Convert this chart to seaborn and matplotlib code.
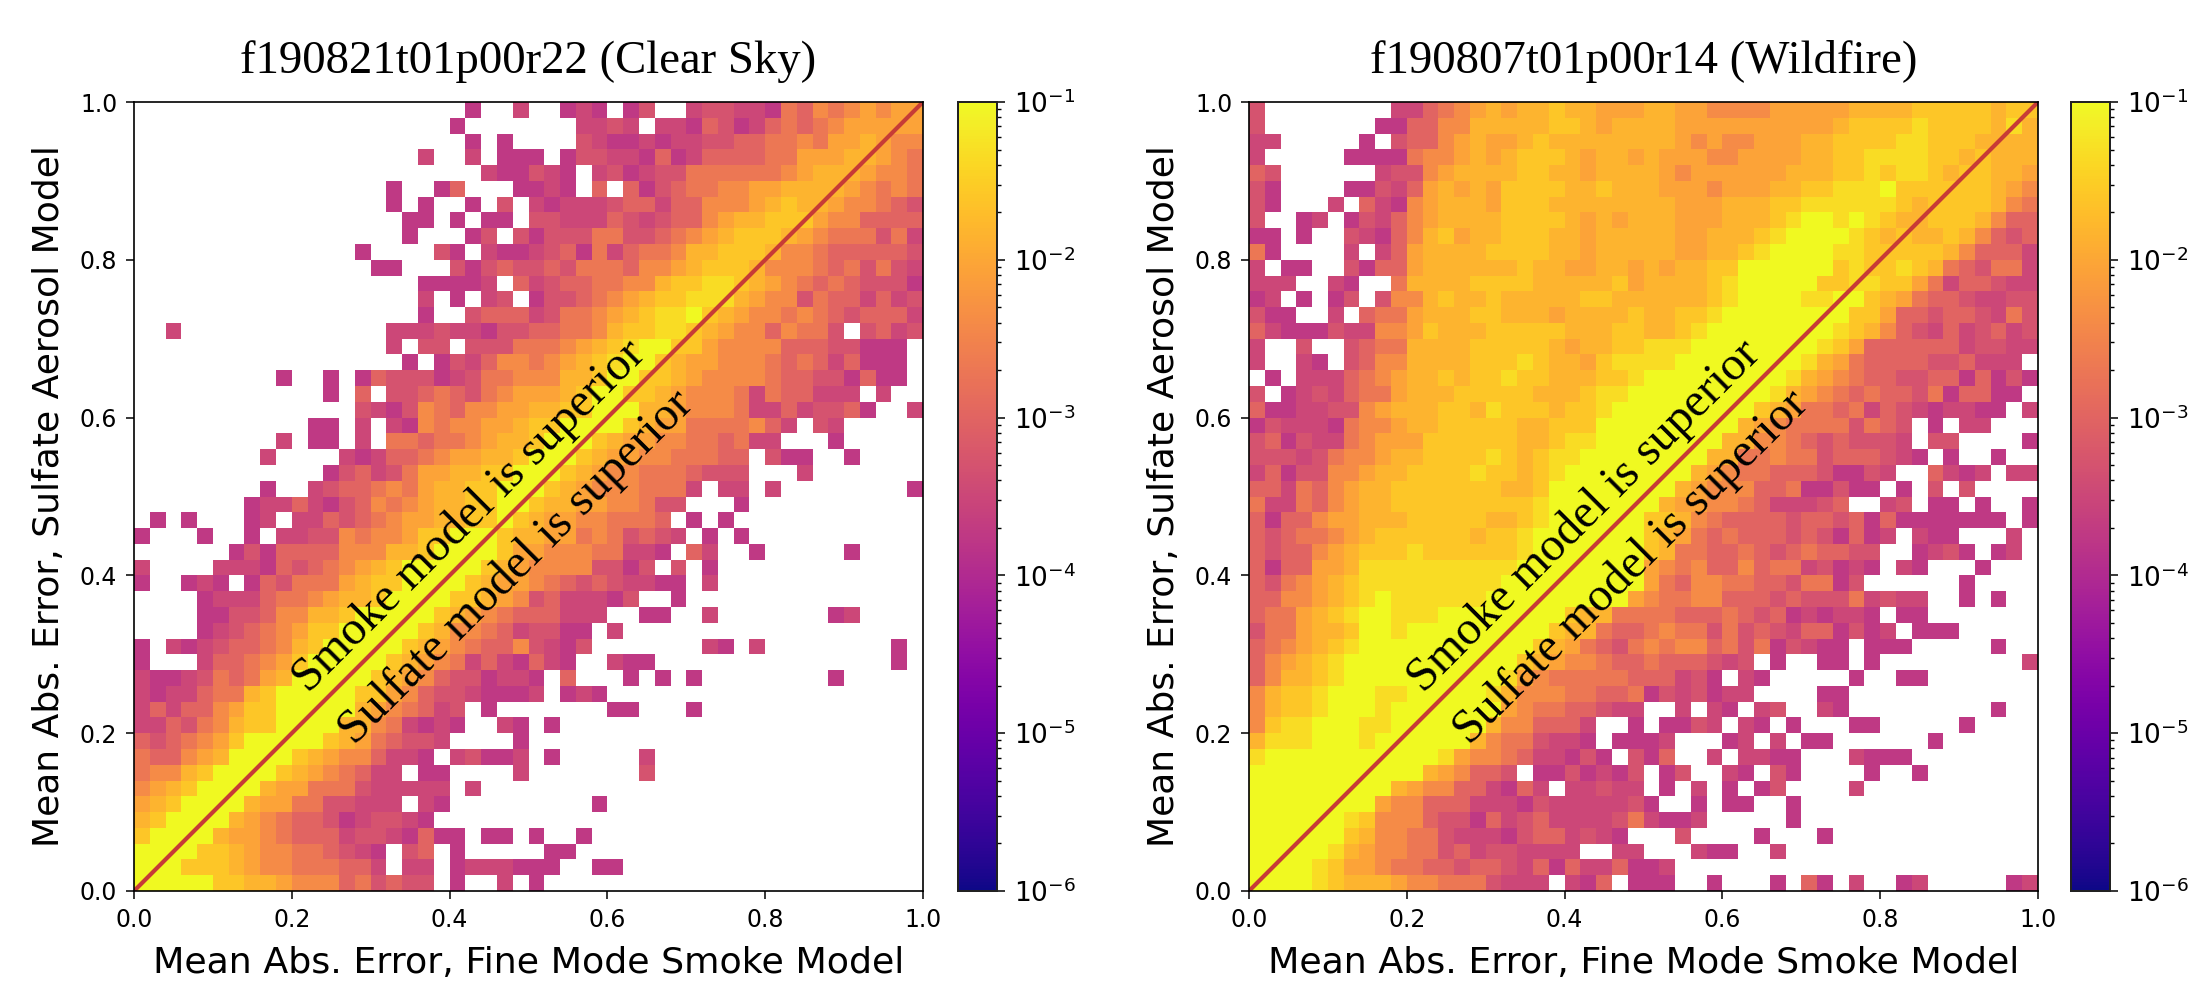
import matplotlib
matplotlib.use('Agg')

import numpy as np
import pandas as pd
import matplotlib.pyplot as plt
import seaborn as sns
from matplotlib.colors import LogNorm

sns.set_style("ticks")
plt.rcParams['font.family'] = 'DejaVu Sans'
plt.rcParams['text.color'] = 'black'
plt.rcParams['axes.labelcolor'] = 'black'

LEVELS = {'0': 1.8e-4, '1': 3.2e-4, '2': 5.0e-4, '3': 1.0e-3, '4': 2.0e-3, '5': 4.0e-3,
          '6': 9.0e-3, '7': 1.45e-2, '8': 2.5e-2, 'a': 4.5e-2, '9': 1.0e-1}

# rows run top to bottom, columns left to right, '.' is an empty bin
clear_sky = [
    ".....................0..1 ..010.02..12211043545656 6",
    "....................0.... ...1121.11032013434566666",
    ".....................0.0. ...21 00101 12233 44546 67655",
    "..................1..1.00 0.022 11030 13333 44666 77654",
    "......................100 210.1 20122 44444 45677 76554",
    "................0..03...0 010.3 .3023 44556 67777 65454",
    "................0.0..0.2. 10111 23313 35556 78776 55432",
    ".................00.0.00. 22111 32123 35677 88865 53333",
    ".................0...02.2 02224 42234 56788 87654 44241",
    "..............0....20.100 12304 13445 77888 75543 33332",
    "...............00...20232 23244 43556 78887 55543 42421",
    "..................00001.3 12334 45578 8aa87 65434 32220",
    "..................1.0.12. 02234 56788 aaa76 55243 31312",
    "..................0..2333 12445 678aa 98765 54543 23331",
    "..1.............111211022 33445 788aa 87655 35442 .2312",
    "................1.22.2224 44567 8a998 86555 53332 2000.",
    ".................0.021355 45678 a9987 66555 43431 3000.",
    ".........0..0.03222012445 55778 99887 65555 43322 0300.",
    "............0.3.223432456 66789 98876 55541 43311 1.1..",
    "..............21025435566 77889 99776 55541 13122 30..1",
    "...........00.1.105455667 88999 98766 44445 31.21 .....",
    ".........1.00.1.443445677 89998 76655 44341 1...0 .....",
    "........1....101334566778 99987 66554 4433. 200.. 0....",
    "............0231246677889 99876 55444 3222. ..1.. .....",
    "........0..12334546778899 98765 55444 1.11. 1.... ....0",
    ".......011310235456778899 87766 55422 ...0. ..... .....",
    ".0.0...01.113234566778898 76655 4443. 0.0.. ..... .....",
    "0...0..0.1122545568899987 76645 42321 .0.0. ..... .....",
    "......0203333555778999986 65554 4110. 31..0 ..... 0....",
    "1....11103234567899999876 55552 202.2 .0... ..... .....",
    "0..010.032444678899998766 54323 21100 .1... ..... .....",
    "....011134456778999988765 23111 02..0 ..... ..... .....",
    "....002235577899999876543 33111 ..00. .1... ....0 1....",
    "....012345688999998755431 2200. 1.... ..... ..... .....",
    "0.10123345789999987654335 2102. ..... .10.1 ..... ...0.",
    "0...133456899999876541310 310.. 100.. ..... ..... ...0.",
    "1001243467999998765322011 0.3.. .0.0. 0.... ....0 .....",
    "1011344789999988653221000 1.010 ..... ..... ..... .....",
    "1313356889 99997 65431 2.0.. ..... 00... 0.... ..... .....",
    "1132457889 99977 54101 0..10 .0... ..... ..... ..... .....",
    "3234568999 99876 43221 ....0 ..... ..... ..... ..... .....",
    "4335679999 87655 3110. 12001 .0... ..1.. ..... ..... .....",
    "4557899998 76543 11.00 ....1 ..... ..2.. ..... ..... .....",
    "5678999976 64442 11111 .1... ..... ..... ..... ..... .....",
    "6789999766 44221 11.10 ..... ....0 ..... ..... ..... .....",
    "7899997654 33201 2210. ..... ..... ..... ..... ..... .....",
    "8999976654 33312 21030 0.00. 0..0. ..... ..... ..... .....",
    "9999887655 44321 0.23. 0.... .00.. ..... ..... ..... .....",
    "9998887655 44433 1.11. 01110 00..0 0.... ..... ..... .....",
    "9999988776 55534 2322. 0..1. 0.... ..... ..... ..... .....",
]

wildfire = [
    "2........1134567677877666 77665 55566 66677 77888 88788",
    "2.......00335577777887677 77666 66666 66788 88a88 887a7",
    "11.....0.2335676678777777 77656 55666 77888 8aa88 87777",
    "1.....0000455676788876776 76665 56666 7788a aaa88 78777",
    "32......12256777788776777 76566 66667 7788a 8aa87 88776",
    "20....0021367676888877877 76665 66677 88aaa 98888 88765",
    "20...1.310 56777 68887 77777 77666 77788 aaaaa a8788 88754",
    "2..01.0213 56777 78888 76767 77666 7778a 99a9a 87788 87533",
    "00.0..2103 57867 78887 76777 77667 778a9 999a8 78778 75323",
    "40....1.13 67777 88887 76777 77667 78a99 99aa8 88887 53331",
    "1.00..2033 67777 77877 66776 76778 89999 998a8 8a874 32441",
    "111..10..4 77778 88877 77786 77778 a9999 988aa 88641 33211",
    "01.0.02.25 57877 87777 78877 77778 a9999 aa998 76433 21122",
    "200..1.344 67778 87776 77778 7788a 99999 99988 63323 32142",
    "3100021155 68777 88888 77788 778a9 99999 99a87 53213 12312",
    "1..2..2344 77778 88887 67788 aaa99 99999 9a863 33333 12211",
    "1..10.2355 77778 88a87 768aa aa999 99999 a7643 33322 3111.",
    ".0.1113456 77878 8a887 7788a 99999 9999a 76543 32233 03020",
    "2.01213446 77788 88877 78aa9 99999 999a7 65434 33240 3300.",
    "3001122567 77887 a8887 88a99 99999 99876 44341 32101 100.1",
    "0211104556 77888 88778 88999 99999 97654 44424 32.0. 11...",
    "2302114566 68888 88778 aa999 99999 77554 32322 21.22 ....0",
    "2221245567 78888 a878a a9999 99997 74454 42333 210.0 ..0..",
    "1302255677 8888a 8878a 99999 99976 54433 32002 1..31 01.11",
    "3314356778 88888 87789 99999 99765 55334 00200 .0.2. 2....",
    "4114356778 88888 888a9 99999 97665 54311 123.. 12.00 .0..0",
    "3033566777 88888 778a9 99999 88754 33332 33230 30000 000.0",
    "3234456788 88887 88a99 99999 87643 43332 32030 1.100 ...1.",
    "3233567888 a8888 88a99 99999 87443 34323 43322 ..012 0.01.",
    "3033667aaa aaaaa aa999 99999 65453 35344 12010 .10.. .0...",
    "3245678aaa aaaaa a9999 99999 64355 44332 4402. ..... 0....",
    "3355678a9a aaaaa 99999 99996 54455 33323 22241 211.. 0.0..",
    "344678a99a aa999 99999 87744 44333 43230 10110 .00.. .....",
    "244677899a 99999 99998 77433 45442 42321 33020 1.000 .....",
    "345678a999 99999 99987 64324 54553 42402 100.0 00... ..0..",
    "35678a9999 99999 99876 55433 43332 12.0. .00.0 ..... ....1",
    "35778a9999 99999 9a654 44443 33120 .10.. ...0. .00.. .....",
    "5788a999aa 99999 a7555 44334 02120 11... .00.. ..... .....",
    "5788a999a9 99999 96544 33211 ..1.1 0.12. .10.. ..... ..0..",
    "58aa999aa9 99999 75533 31..0 .0021 .10.0 ...00 ..... 0....",
    "7aaa999a99 99997 54421 10.00 01... 01.1. 00... ...0. .....",
    "a999999999 99a65 54311 020.2 03..1 .1100 ...10 00... .....",
    "9999999999 97653 32.00 20102 .02.. 10.20 ....0 ..0.. .....",
    "9999999997 65533 1031. 11211 .0.1. 0.02. ...1. ..... .....",
    "9999999965 53331 11021 11112 0..0. 00..0 ..... ..... .....",
    "999999a855 53220 31231 11124 1001. ....0 ..... ..... .....",
    "9999998755 44211 10233 1210. ..2.. ..0.. .0... ..... .....",
    "99999a7655 44231 22111 1..11 ...10 0..1. ..... ..... .....",
    "9999a86654 43323 32130 31130 01... ..... ..... ..... .....",
    "9999a87776 55444 2111. 103.0 00..0 ...0. 30.1. .01.. ...01",
]

titles = ['f190821t01p00r22 (Clear Sky)', 'f190807t01p00r14 (Wildfire)']
x_label = 'Mean Abs. Error, Fine Mode Smoke Model'
y_label = 'Mean Abs. Error, Sulfate Aerosol Model'
tick_values = [0.0, 0.2, 0.4, 0.6, 0.8, 1.0]
cbar_ticks = [1e-6, 1e-5, 1e-4, 1e-3, 1e-2, 1e-1]


def to_frame(rows):
    # decode the level strings into a table of densities
    cells = []
    for row in rows:
        row = row.replace(' ', '').ljust(50, '.')[:50]
        cells.append([LEVELS.get(c, np.nan) for c in row])
    edges = np.round(np.arange(50) / 50, 2)
    return pd.DataFrame(cells, index=edges[::-1], columns=edges)


W, H = 2193, 982
fig = plt.figure(figsize=(W / 100, H / 100), dpi=100)
fig.patch.set_facecolor('white')

panels = [(clear_sky, titles[0], 134, 958), (wildfire, titles[1], 1249, 2071)]
for rows, title, left, cbar_left in panels:
    ax = fig.add_axes([left / W, 1 - 891 / H, 789 / W, 789 / H])
    cax = fig.add_axes([cbar_left / W, 1 - 891 / H, 39 / W, 789 / H])
    sns.heatmap(to_frame(rows), ax=ax, cbar_ax=cax, cmap='plasma',
                norm=LogNorm(vmin=1e-6, vmax=1e-1), square=False, linewidths=0,
                xticklabels=False, yticklabels=False, rasterized=True)

    # the diagonal and the two captions, given in 0-1 axes space
    tr = ax.transAxes
    ax.plot([0, 1], [0, 1], transform=tr, color='#c73b36', lw=3)
    ax.text(0.425, 0.475, 'Smoke model is superior', transform=tr, rotation=45,
            family='Liberation Serif', fontsize=34.5, ha='center', va='center',
            rotation_mode='anchor')
    ax.text(0.485, 0.410, 'Sulfate model is superior', transform=tr, rotation=45,
            family='Liberation Serif', fontsize=34.5, ha='center', va='center',
            rotation_mode='anchor')

    ax.set_xticks([v * 50 for v in tick_values])
    ax.set_xticklabels(['%.1f' % v for v in tick_values], rotation=0)
    ax.set_yticks([(1 - v) * 50 for v in tick_values])
    ax.set_yticklabels(['%.1f' % v for v in tick_values], rotation=0)
    ax.tick_params(labelsize=17, length=6, width=1.1, pad=6, colors='black')
    for side in ax.spines.values():
        side.set_visible(True)
        side.set_linewidth(1.2)
        side.set_color('black')
    ax.set_xlabel(x_label, fontsize=26.2, labelpad=10)
    ax.set_ylabel(y_label, fontsize=26, labelpad=10)
    ax.set_title(title, family='Liberation Serif', fontsize=33.7, pad=21)

    cax.set_yscale('log')
    cax.set_yticks(cbar_ticks)
    cax.tick_params(labelsize=19, length=6, width=1.1, which='major', pad=6, colors='black')
    cax.tick_params(which='minor', length=3, width=1.0, colors='black')
    for side in cax.spines.values():
        side.set_visible(True)
        side.set_linewidth(1.4)
        side.set_color('#222222')

fig.savefig('out.png', dpi=100)
